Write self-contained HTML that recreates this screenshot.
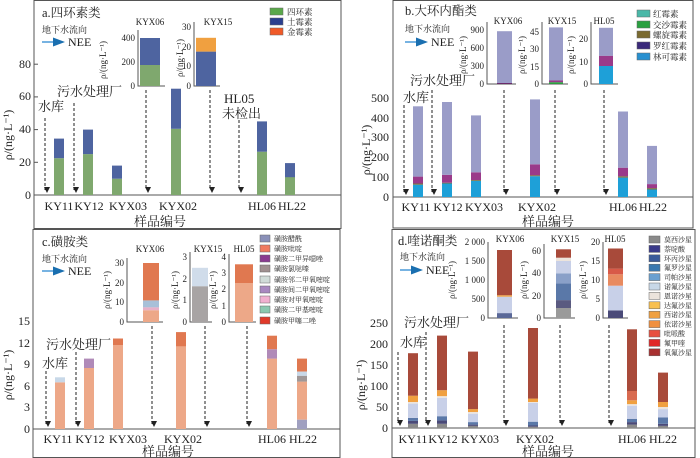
<!DOCTYPE html>
<html><head><meta charset="utf-8"><style>
body{margin:0;background:#fff}
svg{display:block}
text{font-family:"Liberation Serif","Noto Serif CJK SC",serif;fill:#222}
.t{font-size:12px}
.s{font-size:9px}
.l{font-size:8.5px}
.c{font-size:13px}
.ti{font-size:12.5px}
.ax{stroke:#555;stroke-width:1;fill:none}
.ar{stroke:#222;stroke-width:1;stroke-dasharray:3,2;fill:none}
</style></head><body>
<svg width="700" height="458" viewBox="0 0 700 458" xmlns="http://www.w3.org/2000/svg">
<defs><marker id="m" markerWidth="6" markerHeight="6" refX="3" refY="5" orient="auto" markerUnits="userSpaceOnUse"><path d="M0,0L6,0L3,6z" fill="#222" transform="rotate(-90 3 3)"/></marker>
<marker id="h" markerWidth="8" markerHeight="6" refX="6" refY="3" orient="auto"><path d="M0,0L8,3L0,6z" fill="#1a6fb0"/></marker></defs>

<!-- ================= PANEL A ================= -->
<rect x="34" y="0.5" width="307" height="228" class="ax"/>
<text x="42" y="17" class="ti">a.四环素类</text>
<text x="42" y="33" class="s">地下水流向</text>
<line x1="42" y1="42" x2="62" y2="42" stroke="#4a9ad8" stroke-width="1.5" marker-end="url(#h)"/>
<text x="68" y="46" class="t">NEE</text>
<g class="t" text-anchor="end"><text x="31" y="199">0</text><text x="31" y="166">20</text><text x="31" y="133">40</text><text x="31" y="100">60</text><text x="31" y="68">80</text></g>
<g stroke="#555"><line x1="34" y1="162.3" x2="38" y2="162.3"/><line x1="34" y1="129.6" x2="38" y2="129.6"/><line x1="34" y1="96.9" x2="38" y2="96.9"/><line x1="34" y1="64.2" x2="38" y2="64.2"/></g>
<text transform="translate(12,135) rotate(-90)" class="t" text-anchor="middle">ρ/(ng·L⁻¹)</text>
<line x1="34" y1="195" x2="341" y2="195" stroke="#555"/>
<g fill="#7fa86e"><rect x="54" y="158.2" width="10" height="36.8"/><rect x="83" y="154.1" width="10" height="40.9"/><rect x="112" y="178.7" width="10" height="16.3"/><rect x="171" y="128.8" width="10" height="66.2"/><rect x="257" y="151.7" width="10" height="43.3"/><rect x="285" y="177" width="10" height="18"/></g>
<g fill="#4e64a0"><rect x="54" y="138.6" width="10" height="19.6"/><rect x="83" y="129.6" width="10" height="24.5"/><rect x="112" y="165.6" width="10" height="13.1"/><rect x="171" y="88.7" width="10" height="40.1"/><rect x="257" y="121.4" width="10" height="30.3"/><rect x="285" y="163.1" width="10" height="14.1"/></g>
<g class="t" text-anchor="middle"><text x="59" y="210">KY11</text><text x="89" y="210">KY12</text><text x="128" y="210">KYX03</text><text x="178" y="210">KYX02</text><text x="262" y="210">HL06</text><text x="292" y="210">HL22</text></g>
<text x="160" y="226" class="c" text-anchor="middle">样品编号</text>
<text x="38" y="111" class="c">水库</text>
<text x="57" y="96" class="c">污水处理厂</text>
<text x="224" y="103" class="c">HL05</text>
<text x="222" y="118" class="c">未检出</text>
<g class="ar"><line x1="45" y1="118" x2="45" y2="190" marker-end="url(#m)"/><line x1="74" y1="103" x2="74" y2="190" marker-end="url(#m)"/><line x1="146" y1="90" x2="146" y2="190" marker-end="url(#m)"/><line x1="210" y1="90" x2="210" y2="190" marker-end="url(#m)"/><line x1="239" y1="120" x2="239" y2="190" marker-end="url(#m)"/></g>
<!-- inset KYX06 -->
<text x="150" y="25" class="s" text-anchor="middle">KYX06</text>
<path d="M138,30V86H165" class="ax"/>
<g class="s" text-anchor="end"><text x="135" y="89">0</text><text x="135" y="65">200</text><text x="135" y="41">400</text></g>
<text transform="translate(106,60) rotate(-90)" class="s" text-anchor="middle">ρ/(ng·L⁻¹)</text>
<rect x="140" y="65" width="20" height="21" fill="#7fa86e"/><rect x="140" y="38" width="20" height="27" fill="#4e64a0"/>
<!-- inset KYX15 -->
<text x="218" y="25" class="s" text-anchor="middle">KYX15</text>
<path d="M194,22V86H220" class="ax"/>
<g class="s" text-anchor="end"><text x="191" y="89">0</text><text x="191" y="69">10</text><text x="191" y="50">20</text><text x="191" y="30">30</text></g>
<text transform="translate(183,58) rotate(-90)" class="s" text-anchor="middle">ρ/(ng·L⁻¹)</text>
<rect x="196" y="51.6" width="20" height="34.4" fill="#4e64a0"/><rect x="196" y="37.8" width="20" height="13.8" fill="#f0a040"/>
<!-- legend a -->
<rect x="270" y="8" width="13" height="7" fill="#5aa84a" stroke="#666" stroke-width=".5"/><text x="287" y="15" class="l">四环素</text>
<rect x="270" y="18" width="13" height="7" fill="#2a3f8f" stroke="#666" stroke-width=".5"/><text x="287" y="25" class="l">土霉素</text>
<rect x="270" y="28" width="13" height="7" fill="#f05a28" stroke="#666" stroke-width=".5"/><text x="287" y="35" class="l">金霉素</text>

<!-- ================= PANEL B ================= -->
<rect x="393" y="0.5" width="300" height="227.5" class="ax"/>
<text x="405" y="15" class="ti">b.大环内酯类</text>
<text x="405" y="32" class="s">地下水流向</text>
<line x1="405" y1="42" x2="425" y2="42" stroke="#4a9ad8" stroke-width="1.5" marker-end="url(#h)"/>
<text x="431" y="46" class="t">NEE</text>
<g class="t" text-anchor="end"><text x="389" y="201">0</text><text x="389" y="181">100</text><text x="389" y="161">200</text><text x="389" y="141">300</text><text x="389" y="122">400</text><text x="389" y="102">500</text></g>
<text transform="translate(370,150) rotate(-90)" class="t" text-anchor="middle">ρ/(ng·L⁻¹)</text>
<line x1="393" y1="197" x2="693" y2="197" stroke="#555"/>
<g fill="#1ea0d8"><rect x="413" y="184.7" width="10" height="12.3"/><rect x="442" y="183.5" width="10" height="13.5"/><rect x="471" y="180.8" width="10" height="16.2"/><rect x="530" y="176.2" width="10" height="20.8"/><rect x="618" y="177.6" width="10" height="19.4"/><rect x="647" y="189.5" width="10" height="7.5"/></g>
<g fill="#7a7040"><rect x="413" y="183.5" width="10" height="1.2"/><rect x="442" y="182.7" width="10" height=".8"/><rect x="471" y="180" width="10" height=".8"/><rect x="530" y="175.2" width="10" height="1"/><rect x="618" y="176.2" width="10" height="1.4"/><rect x="647" y="188.1" width="10" height="1.4"/></g>
<g fill="#9a3a8a"><rect x="413" y="176.6" width="10" height="6.9"/><rect x="442" y="174.8" width="10" height="7.9"/><rect x="471" y="172.3" width="10" height="7.7"/><rect x="530" y="164.3" width="10" height="10.9"/><rect x="618" y="167.7" width="10" height="8.5"/><rect x="647" y="184.1" width="10" height="4"/></g>
<g fill="#9a9cc8"><rect x="413" y="106.3" width="10" height="70.3"/><rect x="442" y="102" width="10" height="72.8"/><rect x="471" y="115.4" width="10" height="56.9"/><rect x="530" y="99.4" width="10" height="64.9"/><rect x="618" y="111.5" width="10" height="56.2"/><rect x="647" y="145.9" width="10" height="38.2"/></g>
<g class="t" text-anchor="middle"><text x="416" y="211">KY11</text><text x="448" y="211">KY12</text><text x="484" y="211">KYX03</text><text x="537" y="211">KYX02</text><text x="623" y="211">HL06</text><text x="653" y="211">HL22</text></g>
<text x="548" y="226" class="c" text-anchor="middle">样品编号</text>
<text x="403" y="102" class="c">水库</text>
<text x="410" y="85" class="c">污水处理厂</text>
<g class="ar"><line x1="404" y1="105" x2="404" y2="192" marker-end="url(#m)"/><line x1="432" y1="90" x2="432" y2="192" marker-end="url(#m)"/><line x1="504" y1="90" x2="504" y2="192" marker-end="url(#m)"/><line x1="555" y1="90" x2="555" y2="192" marker-end="url(#m)"/><line x1="604" y1="90" x2="604" y2="192" marker-end="url(#m)"/></g>
<!-- insets b -->
<text x="508" y="24" class="s" text-anchor="middle">KYX06</text>
<path d="M487,22V84H516" class="ax"/>
<g class="s" text-anchor="end"><text x="484" y="87">0</text><text x="484" y="69">300</text><text x="484" y="51">600</text><text x="484" y="33">900</text></g>
<text transform="translate(466,55) rotate(-90)" class="s" text-anchor="middle">ρ/(ng·L⁻¹)</text>
<rect x="497" y="31.2" width="15" height="52.2" fill="#9a9cc8"/><rect x="497" y="83" width="15" height="1" fill="#6a2a6a"/>
<text x="562" y="24" class="s" text-anchor="middle">KYX15</text>
<path d="M542,22V84H568" class="ax"/>
<g class="s" text-anchor="end"><text x="539" y="87">0</text><text x="539" y="70">15</text><text x="539" y="52">30</text><text x="539" y="35">45</text></g>
<text transform="translate(525,55) rotate(-90)" class="s" text-anchor="middle">ρ/(ng·L⁻¹)</text>
<rect x="549" y="27.4" width="14" height="53.1" fill="#9a9cc8"/><rect x="549" y="80.5" width="14" height="1.8" fill="#9a3a8a"/><rect x="549" y="82.3" width="14" height="1.7" fill="#2aa040"/>
<text x="604" y="24" class="s" text-anchor="middle">HL05</text>
<path d="M591,22V84H618" class="ax"/>
<g class="s" text-anchor="end"><text x="588" y="87">0</text><text x="588" y="65">10</text><text x="588" y="42">20</text></g>
<text transform="translate(574,55) rotate(-90)" class="s" text-anchor="middle">ρ/(ng·L⁻¹)</text>
<rect x="599" y="27.8" width="14" height="28.1" fill="#9a9cc8"/><rect x="599" y="55.9" width="14" height="10.1" fill="#9a3a8a"/><rect x="599" y="66" width="14" height="18" fill="#1ea0d8"/>
<!-- legend b -->
<g stroke="#666" stroke-width=".5"><rect x="637" y="10" width="13" height="7" fill="#4ab8a8"/><rect x="637" y="21" width="13" height="7" fill="#2aa040"/><rect x="637" y="31" width="13" height="7" fill="#7a6a30"/><rect x="637" y="42" width="13" height="7" fill="#3a2a7a"/><rect x="637" y="53" width="13" height="7" fill="#2890d0"/></g>
<g class="l"><text x="653" y="17">红霉素</text><text x="653" y="28">交沙霉素</text><text x="653" y="38">螺旋霉素</text><text x="653" y="49">罗红霉素</text><text x="653" y="60">林可霉素</text></g>

<!-- ================= PANEL C ================= -->
<rect x="33" y="229.5" width="307" height="228" class="ax"/>
<text x="42" y="246" class="ti">c.磺胺类</text>
<text x="42" y="262" class="s">地下水流向</text>
<line x1="42" y1="271" x2="62" y2="271" stroke="#4a9ad8" stroke-width="1.5" marker-end="url(#h)"/>
<text x="68" y="275" class="t">NEE</text>
<g class="t" text-anchor="end"><text x="30" y="433">0</text><text x="30" y="411">3</text><text x="30" y="390">6</text><text x="30" y="368">9</text><text x="30" y="347">12</text><text x="30" y="325">15</text></g>
<text transform="translate(12,375) rotate(-90)" class="t" text-anchor="middle">ρ/(ng·L⁻¹)</text>
<line x1="33" y1="429" x2="340" y2="429" stroke="#555"/>
<g fill="#eda888"><rect x="55" y="382.3" width="10" height="46.7"/><rect x="84" y="368" width="10" height="61"/><rect x="113" y="345" width="10" height="84"/><rect x="176" y="346.4" width="10" height="82.6"/><rect x="267" y="358.6" width="10" height="70.4"/><rect x="297" y="381.6" width="10" height="38.1"/></g>
<g fill="#e07850"><rect x="113" y="338.5" width="10" height="6.5"/><rect x="176" y="332.1" width="10" height="14.3"/><rect x="267" y="335.7" width="10" height="13.6"/><rect x="297" y="358.6" width="10" height="13"/></g>
<g fill="#b08ab8"><rect x="84" y="358.6" width="10" height="9.4"/><rect x="267" y="349.3" width="10" height="9.3"/></g>
<g fill="#c8d8e8"><rect x="55" y="377.3" width="10" height="5"/><rect x="297" y="371.6" width="10" height="4.3"/></g>
<rect x="297" y="375.9" width="10" height="5.7" fill="#a09898"/><rect x="297" y="419.7" width="10" height="9.3" fill="#a0a0c0"/>
<g class="t" text-anchor="middle"><text x="58" y="443">KY11</text><text x="90" y="443">KY12</text><text x="128" y="443">KYX03</text><text x="183" y="443">KYX02</text><text x="272" y="443">HL06</text><text x="303" y="443">HL22</text></g>
<text x="168" y="456" class="c" text-anchor="middle">样品编号</text>
<text x="42" y="368" class="c">水库</text>
<text x="46" y="349" class="c">污水处理厂</text>
<g class="ar"><line x1="46" y1="371" x2="46" y2="424" marker-end="url(#m)"/><line x1="76" y1="352" x2="76" y2="424" marker-end="url(#m)"/><line x1="152" y1="326" x2="152" y2="424" marker-end="url(#m)"/><line x1="205" y1="326" x2="205" y2="424" marker-end="url(#m)"/><line x1="247" y1="326" x2="247" y2="424" marker-end="url(#m)"/></g>
<!-- insets c -->
<text x="150" y="252" class="s" text-anchor="middle">KYX06</text>
<path d="M127,258V322H163" class="ax"/>
<g class="s" text-anchor="end"><text x="124" y="325">0</text><text x="124" y="305">10</text><text x="124" y="286">20</text><text x="124" y="266">30</text></g>
<text transform="translate(110,290) rotate(-90)" class="s" text-anchor="middle">ρ/(ng·L⁻¹)</text>
<rect x="143" y="310.2" width="16" height="11.8" fill="#eda888"/><rect x="143" y="307.2" width="16" height="3" fill="#e8b0c8"/><rect x="143" y="300.4" width="16" height="6.9" fill="#a8c0d8"/><rect x="143" y="263" width="16" height="37.4" fill="#e07850"/>
<text x="208" y="252" class="s" text-anchor="middle">KYX15</text>
<path d="M190,252V322H212" class="ax"/>
<g class="s" text-anchor="end"><text x="187" y="325">0</text><text x="187" y="303">1</text><text x="187" y="282">2</text><text x="187" y="260">3</text></g>
<text transform="translate(178,290) rotate(-90)" class="s" text-anchor="middle">ρ/(ng·L⁻¹)</text>
<rect x="192" y="286.2" width="16" height="35.8" fill="#a8a4a4"/><rect x="192" y="267.8" width="16" height="18.4" fill="#d0dcea"/>
<text x="244" y="252" class="s" text-anchor="middle">HL05</text>
<path d="M229,254V322H256" class="ax"/>
<g class="s" text-anchor="end"><text x="226" y="325">0</text><text x="226" y="309">1</text><text x="226" y="292">2</text><text x="226" y="276">3</text><text x="226" y="260">4</text></g>
<text transform="translate(216,290) rotate(-90)" class="s" text-anchor="middle">ρ/(ng·L⁻¹)</text>
<rect x="235" y="283" width="18" height="39" fill="#eda888"/><rect x="235" y="264.3" width="18" height="18.7" fill="#e07850"/>
<!-- legend c -->
<g stroke="#666" stroke-width=".5"><rect x="260" y="235" width="10" height="7" fill="#8a90b8"/><rect x="260" y="245" width="10" height="7" fill="#f07a60"/><rect x="260" y="255" width="10" height="7" fill="#8a3a90"/><rect x="260" y="265" width="10" height="7" fill="#a09090"/><rect x="260" y="276" width="10" height="7" fill="#d0dcd8"/><rect x="260" y="286" width="10" height="7" fill="#a888c0"/><rect x="260" y="296" width="10" height="7" fill="#f0b0d0"/><rect x="260" y="306" width="10" height="7" fill="#8ac8b0"/><rect x="260" y="317" width="10" height="7" fill="#e03a2a"/></g>
<g style="font-size:7px"><text x="274" y="241">磺胺醋酰</text><text x="274" y="251">磺胺吡啶</text><text x="274" y="261">磺胺二甲异噁唑</text><text x="274" y="271">磺胺氯哒嗪</text><text x="274" y="282">磺胺邻二甲氧嘧啶</text><text x="274" y="292">磺胺间二甲氧嘧啶</text><text x="274" y="302">磺胺对甲氧嘧啶</text><text x="274" y="312">磺胺二甲基嘧啶</text><text x="274" y="323">磺胺甲噻二唑</text></g>

<!-- ================= PANEL D ================= -->
<rect x="392" y="229.5" width="303" height="228" class="ax"/>
<text x="398" y="245" class="ti">d.喹诺酮类</text>
<text x="400" y="260" class="s">地下水流向</text>
<line x1="400" y1="270" x2="420" y2="270" stroke="#4a9ad8" stroke-width="1.5" marker-end="url(#h)"/>
<text x="426" y="274" class="t">NEE</text>
<g class="t" text-anchor="end"><text x="388" y="432">0</text><text x="388" y="411">50</text><text x="388" y="390">100</text><text x="388" y="369">150</text><text x="388" y="348">200</text><text x="388" y="327">250</text></g>
<text transform="translate(365,385) rotate(-90)" class="t" text-anchor="middle">ρ/(ng·L⁻¹)</text>
<line x1="392" y1="428" x2="695" y2="428" stroke="#555"/>
<g fill="#8a8a8a"><rect x="408" y="423.8" width="10" height="4.2"/><rect x="437" y="423.8" width="10" height="4.2"/><rect x="468" y="425.9" width="10" height="2.1"/><rect x="528" y="426.7" width="10" height="1.3"/><rect x="627" y="424.6" width="10" height="3.4"/><rect x="658" y="425.9" width="10" height="2.1"/></g>
<g fill="#4a4a78"><rect x="408" y="420.9" width="10" height="2.9"/><rect x="437" y="420.4" width="10" height="3.4"/><rect x="468" y="424.6" width="10" height="1.3"/><rect x="528" y="425.5" width="10" height="1.2"/><rect x="627" y="422.1" width="10" height="2.5"/><rect x="658" y="423.8" width="10" height="2.1"/></g>
<g fill="#5a78a8"><rect x="408" y="417.9" width="10" height="3"/><rect x="437" y="416.2" width="10" height="4.2"/><rect x="468" y="422.1" width="10" height="2.5"/><rect x="528" y="421.7" width="10" height="3.8"/><rect x="627" y="418.8" width="10" height="3.3"/><rect x="658" y="417.5" width="10" height="6.3"/></g>
<g fill="#c8d0e8"><rect x="408" y="403.6" width="10" height="14.3"/><rect x="437" y="397.8" width="10" height="18.4"/><rect x="468" y="413.7" width="10" height="8.4"/><rect x="528" y="402.8" width="10" height="18.9"/><rect x="627" y="405.7" width="10" height="13.1"/><rect x="658" y="409.1" width="10" height="8.4"/></g>
<g fill="#ece4dc"><rect x="408" y="402" width="10" height="1.6"/><rect x="437" y="396.1" width="10" height="1.7"/><rect x="468" y="412" width="10" height="1.7"/><rect x="528" y="402" width="10" height=".8"/><rect x="627" y="404.1" width="10" height="1.6"/><rect x="658" y="407" width="10" height="2.1"/></g>
<g fill="#f0a040"><rect x="408" y="395.7" width="10" height="6.3"/><rect x="437" y="390.2" width="10" height="5.9"/><rect x="468" y="409.1" width="10" height="2.9"/><rect x="528" y="398.6" width="10" height="3.4"/><rect x="627" y="400.3" width="10" height="3.8"/><rect x="658" y="402" width="10" height="5"/></g>
<rect x="627" y="391" width="10" height="9.3" fill="#d86a50"/>
<g fill="#a84a3a"><rect x="408" y="353.2" width="10" height="42.5"/><rect x="437" y="335.6" width="10" height="54.6"/><rect x="468" y="351.6" width="10" height="57.5"/><rect x="528" y="328" width="10" height="70.6"/><rect x="627" y="329.3" width="10" height="61.7"/><rect x="658" y="372.6" width="10" height="29.4"/></g>
<g class="t" text-anchor="middle"><text x="413" y="443">KY11</text><text x="443" y="443">KY12</text><text x="480" y="443">KYX03</text><text x="535" y="443">KYX02</text><text x="632" y="443">HL06</text><text x="663" y="443">HL22</text></g>
<text x="548" y="456" class="c" text-anchor="middle">样品编号</text>
<text x="400" y="347" class="c">水库</text>
<text x="404" y="327" class="c">污水处理厂</text>
<g class="ar"><line x1="398" y1="352" x2="398" y2="423" marker-end="url(#m)"/><line x1="426" y1="332" x2="426" y2="423" marker-end="url(#m)"/><line x1="504" y1="325" x2="504" y2="423" marker-end="url(#m)"/><line x1="560" y1="325" x2="560" y2="423" marker-end="url(#m)"/><line x1="609" y1="325" x2="609" y2="423" marker-end="url(#m)"/></g>
<!-- insets d -->
<text x="510" y="242" class="s" text-anchor="middle">KYX06</text>
<path d="M488,242V318H518" class="ax"/>
<g class="s" text-anchor="end"><text x="485" y="321">0</text><text x="485" y="302">500</text><text x="485" y="283">1 000</text><text x="485" y="264">1 500</text><text x="485" y="245">2 000</text></g>
<text transform="translate(455,280) rotate(-90)" class="s" text-anchor="middle">ρ/(ng·L⁻¹)</text>
<rect x="497" y="313.1" width="15" height="4.9" fill="#5a6898"/><rect x="497" y="296.7" width="15" height="16.4" fill="#c8d0e8"/><rect x="497" y="295.2" width="15" height="1.5" fill="#f0a040"/><rect x="497" y="250" width="15" height="45.2" fill="#a84a3a"/>
<text x="565" y="242" class="s" text-anchor="middle">KYX15</text>
<path d="M544,244V318H575" class="ax"/>
<g class="s" text-anchor="end"><text x="541" y="321">0</text><text x="541" y="299">20</text><text x="541" y="276">40</text><text x="541" y="254">60</text></g>
<text transform="translate(527,280) rotate(-90)" class="s" text-anchor="middle">ρ/(ng·L⁻¹)</text>
<rect x="556" y="308" width="15" height="10" fill="#9a9a9a"/><rect x="556" y="300.1" width="15" height="7.9" fill="#5a5a80"/><rect x="556" y="283.4" width="15" height="16.7" fill="#5a78a8"/><rect x="556" y="273.3" width="15" height="10.1" fill="#8aa0c8"/><rect x="556" y="261" width="15" height="12.3" fill="#c8d0e8"/><rect x="556" y="257.7" width="15" height="3.3" fill="#ece4dc"/><rect x="556" y="249.3" width="15" height="8.4" fill="#a84a3a"/>
<text x="615" y="242" class="s" text-anchor="middle">HL05</text>
<path d="M603,242V318H628" class="ax"/>
<g class="s" text-anchor="end"><text x="600" y="321">0</text><text x="600" y="302">5</text><text x="600" y="283">10</text><text x="600" y="264">15</text><text x="600" y="245">20</text></g>
<text transform="translate(586,280) rotate(-90)" class="s" text-anchor="middle">ρ/(ng·L⁻¹)</text>
<rect x="608" y="310.4" width="15" height="7.6" fill="#4a4a78"/><rect x="608" y="285.7" width="15" height="24.7" fill="#c8d0e8"/><rect x="608" y="274.3" width="15" height="11.4" fill="#e88a60"/><rect x="608" y="268.6" width="15" height="5.7" fill="#d85a48"/><rect x="608" y="248.5" width="15" height="20.1" fill="#a84a3a"/>
<!-- legend d -->
<g stroke="#666" stroke-width=".5"><rect x="649" y="236" width="11" height="7" fill="#8a8a8a"/><rect x="649" y="245.4" width="11" height="7" fill="#3a3a8a"/><rect x="649" y="254.8" width="11" height="7" fill="#3a5a9a"/><rect x="649" y="264.2" width="11" height="7" fill="#3a78b0"/><rect x="649" y="273.6" width="11" height="7" fill="#6aa0d0"/><rect x="649" y="283" width="11" height="7" fill="#c8d8e8"/><rect x="649" y="292.4" width="11" height="7" fill="#ece4dc"/><rect x="649" y="301.8" width="11" height="7" fill="#f8c050"/><rect x="649" y="311.2" width="11" height="7" fill="#f0a040"/><rect x="649" y="320.6" width="11" height="7" fill="#f09040"/><rect x="649" y="330" width="11" height="7" fill="#e85040"/><rect x="649" y="339.4" width="11" height="7" fill="#e02828"/><rect x="649" y="348.8" width="11" height="7" fill="#a83030"/></g>
<g style="font-size:7px"><text x="664" y="242">莫西沙星</text><text x="664" y="251.4">萘啶酸</text><text x="664" y="260.8">环丙沙星</text><text x="664" y="270.2">氟罗沙星</text><text x="664" y="279.6">司帕沙星</text><text x="664" y="289">诺氟沙星</text><text x="664" y="298.4">恩诺沙星</text><text x="664" y="307.8">达氟沙星</text><text x="664" y="317.2">西诺沙星</text><text x="664" y="326.6">依诺沙星</text><text x="664" y="336">吡哌酸</text><text x="664" y="345.4">氟甲喹</text><text x="664" y="354.8">氧氟沙星</text></g>
</svg>
</body></html>
